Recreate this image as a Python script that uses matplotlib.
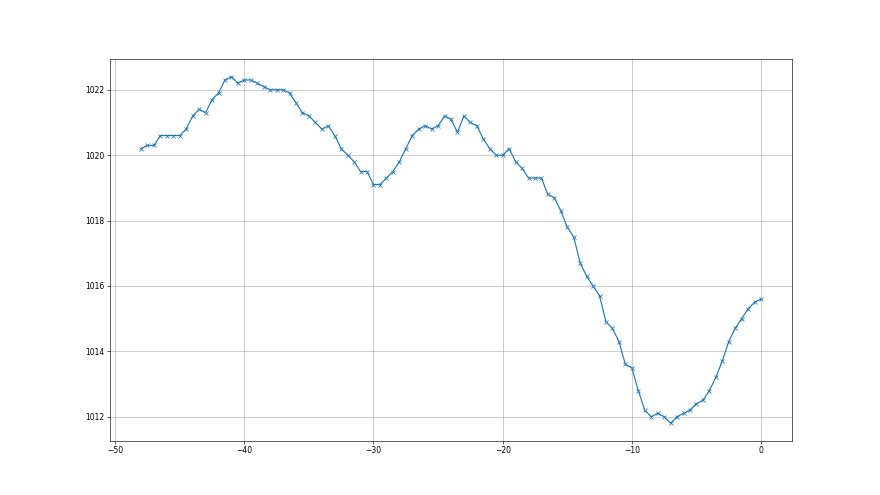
import numpy as np
import matplotlib
matplotlib.use("Agg")
import matplotlib.pyplot as plt

hours = np.arange(-48, 0.01, 0.5)
pressure = [
    1020.2, 1020.3, 1020.3, 1020.6, 1020.6, 1020.6, 1020.6, 1020.8, 1021.2, 1021.4,
    1021.3, 1021.7, 1021.9, 1022.3, 1022.4, 1022.2, 1022.3, 1022.3, 1022.2, 1022.1,
    1022.0, 1022.0, 1022.0, 1021.9, 1021.6, 1021.3, 1021.2, 1021.0, 1020.8, 1020.9,
    1020.6, 1020.2, 1020.0, 1019.8, 1019.5, 1019.5, 1019.1, 1019.1, 1019.3, 1019.5,
    1019.8, 1020.2, 1020.6, 1020.8, 1020.9, 1020.8, 1020.9, 1021.2, 1021.1, 1020.7,
    1021.2, 1021.0, 1020.9, 1020.5, 1020.2, 1020.0, 1020.0, 1020.2, 1019.8, 1019.6,
    1019.3, 1019.3, 1019.3, 1018.8, 1018.7, 1018.3, 1017.8, 1017.5, 1016.7, 1016.3,
    1016.0, 1015.7, 1014.9, 1014.7, 1014.3, 1013.6, 1013.5, 1012.8, 1012.2, 1012.0,
    1012.1, 1012.0, 1011.8, 1012.0, 1012.1, 1012.2, 1012.4, 1012.5, 1012.8, 1013.2,
    1013.7, 1014.3, 1014.7, 1015.0, 1015.3, 1015.5, 1015.6,
]

fig, ax = plt.subplots(figsize=(16, 9), dpi=55)
ax.plot(hours, pressure, marker='x', color='#1f77b4')
ax.grid(True)
fig.savefig("out.png", dpi=55)
